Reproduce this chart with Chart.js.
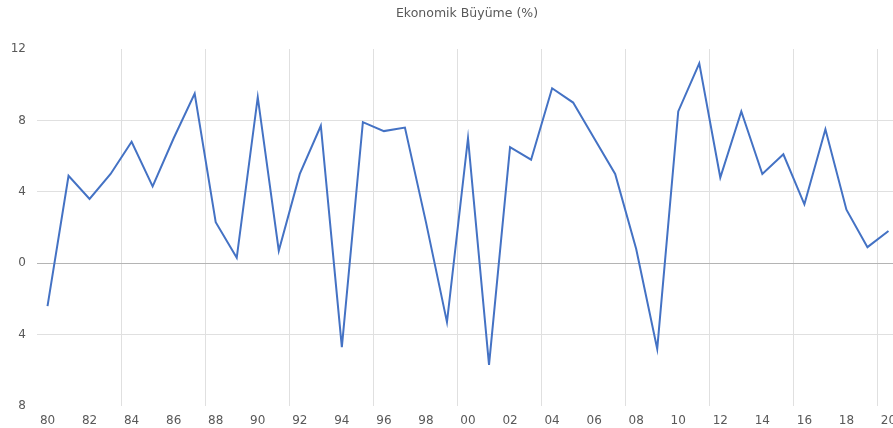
<!DOCTYPE html>
<html>
<head>
<meta charset="utf-8">
<script src="https://cdn.jsdelivr.net/npm/chart.js@4"></script>
<style>
  html, body { margin: 0; padding: 0; overflow: hidden; background: #fff; }
</style>
</head>
<body>
<canvas id="growth-chart" width="934" height="428"></canvas>
<script>
// two-digit year labels, 1980 - 2020
const years = ['80', '81', '82', '83', '84', '85', '86', '87', '88', '89',
    '90', '91', '92', '93', '94', '95', '96', '97', '98', '99',
    '00', '01', '02', '03', '04', '05', '06', '07', '08', '09',
    '10', '11', '12', '13', '14', '15', '16', '17', '18', '19', '20'];

// annual growth, %
const growth = [-2.4, 4.9, 3.6, 5.0, 6.8, 4.3, 7.0, 9.5, 2.3, 0.3,
    9.3, 0.7, 5.0, 7.7, -4.7, 7.9, 7.4, 7.6, 2.3, -3.3,
    7.0, -5.7, 6.5, 5.8, 9.8, 9.0, 7.0, 5.0, 0.8, -4.8,
    8.5, 11.2, 4.8, 8.5, 5.0, 6.1, 3.3, 7.5, 3.0, 0.9, 1.8];

const yTicks = [-8, -4, 0, 4, 8, 12];

const textColor = '#595959';
const fontFamily = '"DejaVu Sans", sans-serif';

const ctx = document.getElementById('growth-chart').getContext('2d');

new Chart(ctx, {
    type: 'line',
    data: {
        labels: years,
        datasets: [{
            label: 'Ekonomik Büyüme (%)',
            data: growth,
            borderColor: '#4472C4',
            borderWidth: 2,
            pointRadius: 0,
            tension: 0,
            fill: false
        }]
    },
    options: {
        responsive: false,
        animation: false,
        layout: { padding: 0 },
        plugins: {
            legend: { display: false },
            tooltip: { enabled: false },
            title: {
                display: true,
                text: 'Ekonomik Büyüme (%)',
                color: textColor,
                font: { family: fontFamily, size: 12.5, weight: 'normal' },
                padding: { top: 6, bottom: 28 }
            }
        },
        scales: {
            x: {
                offset: true,
                border: { display: false },
                grid: {
                    offset: true,
                    drawTicks: false,
                    lineWidth: 1,
                    color: (c) => (c.index > 0 && c.index % 4 === 0) ? '#e0e0e0' : 'rgba(0,0,0,0)'
                },
                ticks: {
                    autoSkip: false,
                    maxRotation: 0,
                    padding: 8,
                    color: textColor,
                    font: { family: fontFamily, size: 12 },
                    callback: function (value, index) {
                        return index % 2 === 0 ? years[index] : '';
                    }
                },
                afterFit: (scale) => { scale.height = 22; }
            },
            y: {
                min: yTicks[0],
                max: yTicks[yTicks.length - 1],
                border: { display: false },
                grid: {
                    drawTicks: false,
                    lineWidth: 1,
                    color: (c) => {
                        const v = c.tick.value;
                        if (v === 0) return '#b4b4b4';
                        if (v === yTicks[0] || v === yTicks[yTicks.length - 1]) return 'rgba(0,0,0,0)';
                        return '#e0e0e0';
                    }
                },
                ticks: {
                    stepSize: 4,
                    padding: 11,
                    color: textColor,
                    font: { family: fontFamily, size: 12 },
                    callback: (value) => Math.abs(value)
                },
                afterFit: (scale) => { scale.width = 37; }
            },
            // empty right-hand spacer so the title stays centred on the whole canvas
            spacer: {
                type: 'linear',
                position: 'right',
                border: { display: false },
                grid: { display: false, drawTicks: false },
                ticks: { display: false },
                afterFit: (scale) => { scale.width = 35; }
            }
        }
    }
});
</script>
</body>
</html>
